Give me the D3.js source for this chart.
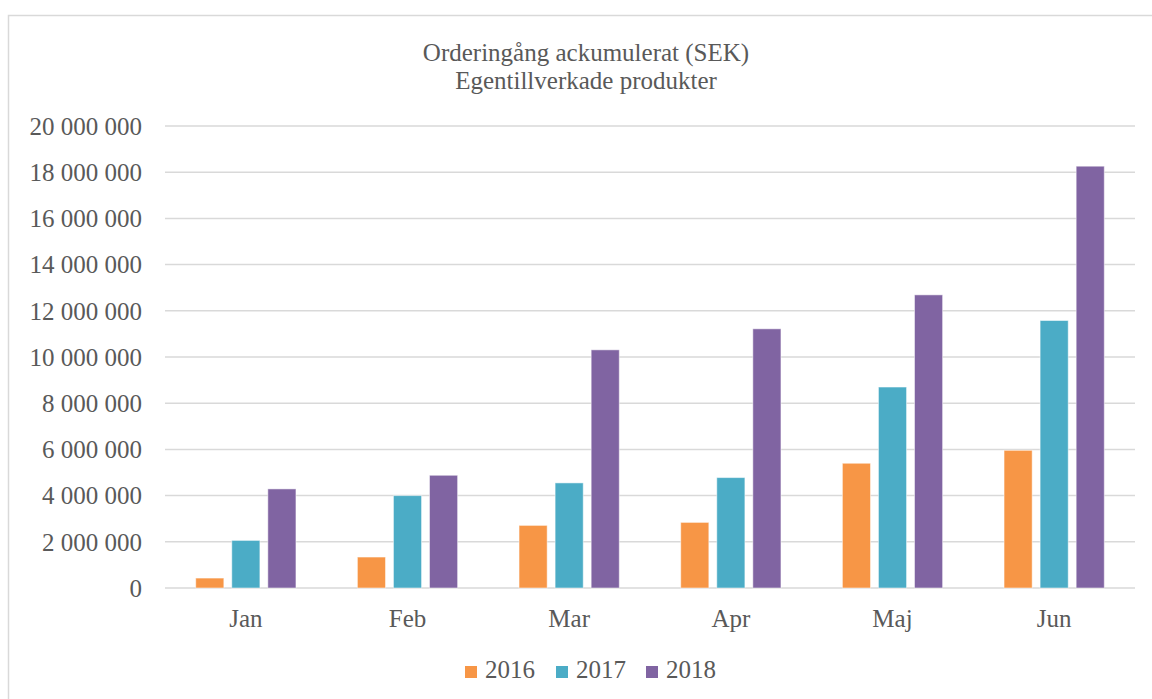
<!DOCTYPE html>
<html>
<head>
<meta charset="utf-8">
<script src="https://cdn.jsdelivr.net/npm/d3@7"></script>
<style>
  body { margin: 0; background: #fff; }
  text { font-family: "Liberation Serif", "DejaVu Serif", serif; fill: #595959; font-size: 25px; }
</style>
</head>
<body>
<script>
// data
var months = ["Jan", "Feb", "Mar", "Apr", "Maj", "Jun"];
var years = ["2016", "2017", "2018"];
var v2016 = [430000, 1340000, 2710000, 2840000, 5400000, 5960000];
var v2017 = [2060000, 4000000, 4550000, 4780000, 8700000, 11580000];
var v2018 = [4290000, 4880000, 10310000, 11220000, 12690000, 18260000];
var yTicks = [0, 2000000, 4000000, 6000000, 8000000, 10000000, 12000000, 14000000, 16000000, 18000000, 20000000];
var colors = ["#F79646", "#4BACC6", "#8064A2"];

var series = [v2016, v2017, v2018];

var W = 1152, H = 699;
var margin = {top: 126, right: 17, bottom: 111, left: 165},
    width = W - margin.left - margin.right,
    height = H - margin.top - margin.bottom;

var svg = d3.select("body").append("svg")
    .attr("width", W)
    .attr("height", H);

// chart border
svg.append("rect")
    .attr("x", 8.5).attr("y", 15.5)
    .attr("width", W + 10).attr("height", H + 10)
    .attr("fill", "#fff")
    .attr("stroke", "#D9D9D9")
    .attr("stroke-width", 1.5);

// title
svg.append("text")
    .attr("x", 586).attr("y", 61)
    .attr("text-anchor", "middle")
    .text("Orderingång ackumulerat (SEK)");
svg.append("text")
    .attr("x", 586).attr("y", 89)
    .attr("text-anchor", "middle")
    .text("Egentillverkade produkter");

var g = svg.append("g")
    .attr("transform", "translate(" + margin.left + "," + margin.top + ")");

// scales
var x0 = d3.scaleBand().domain(months).range([0, width]).paddingInner(0.38).paddingOuter(0.19);
var x1 = d3.scaleBand().domain(years).range([0, x0.bandwidth()]).paddingInner(0.22);
var y = d3.scaleLinear().domain([0, 20000000]).range([height, 0]);

var fmt = function(d) { return d3.format(",")(d).replace(/,/g, " "); };

// grid
g.selectAll(".grid").data(yTicks)
  .enter().append("line")
    .attr("x1", 0).attr("x2", width)
    .attr("y1", function(d) { return y(d); })
    .attr("y2", function(d) { return y(d); })
    .attr("stroke", "#D9D9D9")
    .attr("stroke-width", 1.5);

// y labels
g.selectAll(".ylab").data(yTicks)
  .enter().append("text")
    .attr("x", -23)
    .attr("y", function(d) { return y(d); })
    .attr("dy", "0.35em")
    .attr("text-anchor", "end")
    .text(fmt);

// bars
var groups = g.selectAll(".month").data(months)
  .enter().append("g")
    .attr("transform", function(d) { return "translate(" + x0(d) + ",0)"; });

groups.selectAll("rect")
  .data(function(m, i) { return years.map(function(yr, j) { return {yr: yr, v: series[j][i], c: colors[j]}; }); })
  .enter().append("rect")
    .attr("x", function(d) { return x1(d.yr); })
    .attr("width", x1.bandwidth())
    .attr("y", function(d) { return y(d.v); })
    .attr("height", function(d) { return height - y(d.v); })
    .attr("fill", function(d) { return d.c; })
    .attr("stroke", "#fff")
    .attr("stroke-opacity", 0.5)
    .attr("stroke-width", 1);

// x labels
g.selectAll(".xlab").data(months)
  .enter().append("text")
    .attr("x", function(d) { return x0(d) + x0.bandwidth() / 2; })
    .attr("y", height + 39)
    .attr("text-anchor", "middle")
    .text(function(d) { return d; });

// legend
var legX = [465, 556, 646];
var leg = svg.selectAll(".leg").data(years)
  .enter().append("g")
    .attr("transform", function(d, i) { return "translate(" + legX[i] + ",666)"; });
leg.append("rect")
    .attr("width", 12).attr("height", 12)
    .attr("fill", function(d, i) { return colors[i]; });
leg.append("text")
    .attr("x", 20).attr("y", 12)
    .text(function(d) { return d; });
</script>
</body>
</html>
